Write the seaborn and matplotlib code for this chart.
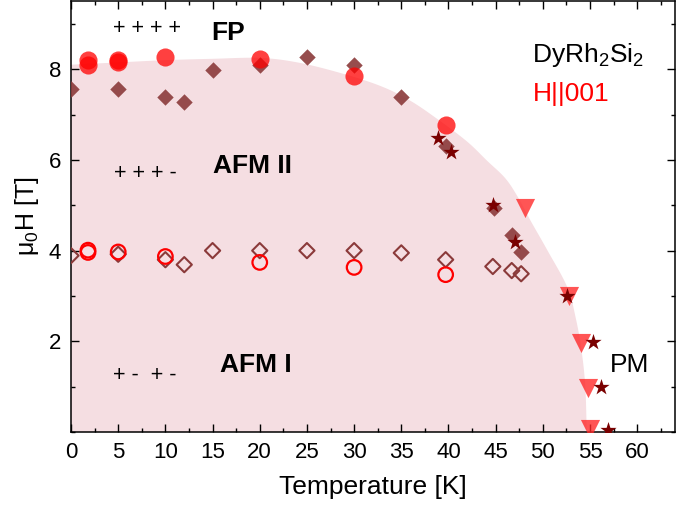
import matplotlib
matplotlib.use("Agg")
import matplotlib.pyplot as plt
from matplotlib.ticker import MultipleLocator
import seaborn as sns
import numpy as np

# ---- data ----
fp_circ_T = [1.8, 1.8, 5.0, 5.0, 10.0, 20.0, 30.0, 39.7]
fp_circ_H = [8.2, 8.1, 8.2, 8.15, 8.26, 8.23, 7.85, 6.76]

fp_dia_T = [0.0, 5.0, 10.0, 12.0, 15.0, 20.0, 25.0, 30.0, 35.0, 39.7, 44.8, 46.7, 47.7]
fp_dia_H = [7.57, 7.57, 7.39, 7.28, 7.98, 8.1, 8.27, 8.09, 7.38, 6.31, 4.95, 4.35, 3.98]

tri_T = [48.1, 52.8, 54.0, 54.8, 55.0]
tri_H = [4.95, 2.99, 1.96, 0.96, 0.06]

star_T = [38.9, 40.3, 44.7, 47.1, 52.6, 55.3, 56.2, 56.9]
star_H = [6.49, 6.18, 5.0, 4.18, 3.0, 1.98, 1.0, 0.04]

afm_dia_T = [0.0, 5.0, 10.0, 12.0, 15.0, 20.0, 25.0, 30.0, 35.0, 39.7, 44.7, 46.7, 47.7]
afm_dia_H = [3.89, 3.92, 3.8, 3.69, 4.0, 4.0, 4.0, 4.0, 3.95, 3.8, 3.65, 3.56, 3.49]

afm_circ_T = [1.8, 1.8, 5.0, 10.0, 20.0, 30.0, 39.7]
afm_circ_H = [4.01, 3.96, 3.97, 3.87, 3.74, 3.63, 3.47]

# phase boundary (shaded region outline)
bound_T = [0, 5, 10, 15, 20, 24, 28.5, 32.8, 36, 39.1, 42, 44.1, 46, 47.3, 48.7,
           50.5, 52.6, 53.5, 54.1, 54.5, 54.65]
bound_H = [8.1, 8.15, 8.2, 8.23, 8.25, 8.15, 7.92, 7.63, 7.3, 6.86, 6.4, 5.98, 5.6,
           5.2, 4.66, 4.0, 3.19, 2.5, 1.8, 1.0, 0.0]

x_ticks = [0, 5, 10, 15, 20, 25, 30, 35, 40, 45, 50, 55, 60]
y_ticks = [2, 4, 6, 8]


def catmull_rom(xs, ys, n=12):
    p = np.column_stack([xs, ys]).astype(float)
    p = np.vstack([p[0], p, p[-1]])
    out = []
    for i in range(1, len(p) - 2):
        p0, p1, p2, p3 = p[i - 1], p[i], p[i + 1], p[i + 2]
        t = np.linspace(0, 1, n, endpoint=False)[:, None]
        seg = 0.5 * ((2 * p1) + (-p0 + p2) * t + (2 * p0 - 5 * p1 + 4 * p2 - p3) * t ** 2
                     + (-p0 + 3 * p1 - 3 * p2 + p3) * t ** 3)
        out.append(seg)
    out.append(p[-2][None, :])
    s = np.vstack(out)
    return s[:, 0], s[:, 1]


# ---- style ----
sns.set_theme(style="ticks")
plt.rcParams["font.family"] = ["Liberation Sans", "DejaVu Sans"]
plt.rcParams["mathtext.fontset"] = "custom"
plt.rcParams["mathtext.rm"] = "Liberation Sans"
plt.rcParams["mathtext.it"] = "Liberation Sans:italic"

fig = plt.figure(figsize=(6.99, 5.08), dpi=100)
ax = fig.add_axes([0.1016, 0.1496, 0.864, 0.848])

shade = "#F5DEE2"
brown = "#8B3A3A"
maroon = "#7A0000"

sx, sy = catmull_rom(bound_T, bound_H)
poly_x = np.concatenate([sx, [sx[-1], 0]])
poly_y = np.concatenate([sy, [0, 0]])
ax.fill(poly_x, poly_y, color=shade, lw=0, zorder=0)

sns.scatterplot(x=afm_dia_T, y=afm_dia_H, marker="D", s=60, facecolor="none",
                edgecolor=brown, linewidth=1.5, ax=ax, zorder=3)
sns.scatterplot(x=afm_circ_T, y=afm_circ_H, marker="o", s=110, facecolor="none",
                edgecolor="#FF0000", linewidth=1.6, ax=ax, zorder=4)
sns.scatterplot(x=fp_dia_T, y=fp_dia_H, marker="D", s=70, color=brown, alpha=0.9,
                linewidth=0, ax=ax, zorder=3)
sns.scatterplot(x=fp_circ_T, y=fp_circ_H, marker="o", s=170, color="#FF0000", alpha=0.75,
                linewidth=0, ax=ax, zorder=4)
sns.scatterplot(x=tri_T, y=tri_H, marker="v", s=190, color="#FF2A2A", alpha=0.8,
                linewidth=0, ax=ax, zorder=4)
sns.scatterplot(x=star_T, y=star_H, marker="*", s=150, color=maroon,
                linewidth=0, ax=ax, zorder=5)

ax.set_xlim(0, 64)
ax.set_ylim(0, 9.5)
ax.set_xticks(x_ticks)
ax.set_yticks(y_ticks)
ax.xaxis.set_minor_locator(MultipleLocator(2.5))
ax.yaxis.set_minor_locator(MultipleLocator(1))
ax.tick_params(which="both", direction="in", top=True, right=True, width=1.0,
               color="black", labelsize=16, labelcolor="black")
ax.tick_params(which="major", length=5.5, pad=7)
ax.tick_params(which="minor", length=3)
for sp in ax.spines.values():
    sp.set_linewidth(1.1)
    sp.set_color("black")

ax.set_xlabel("Temperature [K]", fontsize=19, labelpad=9, color="black")
ax.set_ylabel("μ$_0$H [T]", fontsize=18, labelpad=6, color="black")

ax.text(8.0, 8.89, "+ + + +", fontsize=15.5, ha="center", va="center", color="black")
ax.text(16.7, 8.81, "FP", fontsize=19, fontweight="bold", ha="center", va="center", color="black")
ax.text(7.9, 5.71, "+ + + -", fontsize=15.5, ha="center", va="center", color="black")
ax.text(19.2, 5.87, "AFM II", fontsize=19, fontweight="bold", ha="center", va="center", color="black")
ax.text(7.8, 1.25, "+ -  + -", fontsize=15.5, ha="center", va="center", color="black")
ax.text(19.6, 1.47, "AFM I", fontsize=19, fontweight="bold", ha="center", va="center", color="black")
ax.text(59.2, 1.47, "PM", fontsize=19, ha="center", va="center", color="black")
ax.text(48.9, 8.16, "DyRh$_2$Si$_2$", fontsize=19, ha="left", va="baseline", color="black")
ax.text(48.9, 7.30, "H||001", fontsize=19, ha="left", va="baseline", color="#FF0000")

fig.savefig("out.png", dpi=100)
